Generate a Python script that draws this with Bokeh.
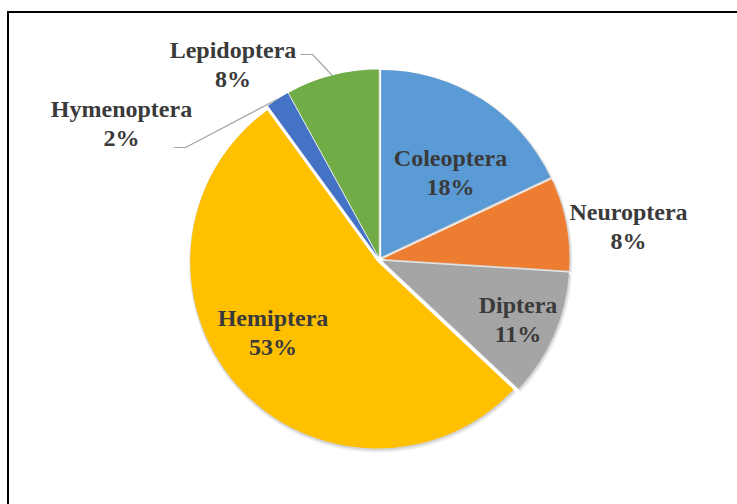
import numpy as np
from bokeh.plotting import figure
from bokeh.models import Range1d
from bokeh.embed import file_html
from bokeh.resources import INLINE
from bokeh.core.properties import value

# ---- data ----
categories = ["Coleoptera", "Neuroptera", "Diptera", "Hemiptera", "Hymenoptera", "Lepidoptera"]
shares = [18, 8, 11, 53, 2, 8]

# ---- styles / layout ----
COLORS = ["#5B9BD5", "#ED7D31", "#A5A5A5", "#FFC000", "#4472C4", "#70AD47"]
# label block centre offsets from pie centre (screen px, y down)
LABEL_OFFSETS = [(71, -87.5), (249, -33), (138.5, 60), (-106.5, 73), (-258, -136), (-146.5, -195)]
# leader line start/elbow offsets from label centre (screen px) for outside labels
LEADERS = {4: [(52, 24), (64, 24)], 5: [(67.5, -10), (79.5, -10)]}
LINE_GAP = 14.5

W, H = 737, 504
CX, CY = 379, 259      # pie centre in page pixels
R = 187
EXPLODE = 3
BOX_LEFT, BOX_TOP = 7.5, 11.5

p = figure(width=W, height=H, output_backend="svg", toolbar_location=None, title=None,
           x_range=Range1d(0, W), y_range=Range1d(-H, 0),
           x_axis_location=None, y_axis_location=None,
           min_border_left=0, min_border_right=0, min_border_top=0, min_border_bottom=0)
p.grid.visible = False
p.outline_line_color = None
p.background_fill_color = "white"
p.border_fill_color = "white"

vals = np.array(shares, dtype=float)
frac = vals / vals.sum()
cum = np.concatenate([[0.0], np.cumsum(frac)])
start = np.pi / 2 - 2 * np.pi * cum[:-1]
end = np.pi / 2 - 2 * np.pi * cum[1:]
mid = (start + end) / 2
cx = CX + EXPLODE * np.cos(mid)
cy = -CY + EXPLODE * np.sin(mid)

# soft shadow
p.wedge(x=cx + 1, y=cy - 2, radius=R + 2, start_angle=start, end_angle=end, direction="clock",
        fill_color="black", fill_alpha=0.07, line_color=None)
p.wedge(x=cx + 0.5, y=cy - 1, radius=R + 1, start_angle=start, end_angle=end, direction="clock",
        fill_color="black", fill_alpha=0.10, line_color=None)

p.wedge(x=cx, y=cy, radius=R, start_angle=start, end_angle=end, direction="clock",
        fill_color=COLORS, line_color=None)

# labels
lx = np.array([CX + o[0] for o in LABEL_OFFSETS])
ly = np.array([CY + o[1] for o in LABEL_OFFSETS])
pct = [f"{round(f * 100):d}%" for f in frac]
common = dict(text_font=value("Liberation Serif"), text_font_style="bold", text_font_size="24px",
              text_color="#3a3a3a", text_align="center", text_baseline="middle")
p.text(x=lx, y=-(ly - LINE_GAP), text=categories, **common)
p.text(x=lx, y=-(ly + LINE_GAP), text=pct, **common)

# leader lines
for i, pts in LEADERS.items():
    xs = [lx[i] + pts[0][0], lx[i] + pts[1][0], cx[i] + R * np.cos(mid[i])]
    ys = [-(ly[i] + pts[0][1]), -(ly[i] + pts[1][1]), cy[i] + R * np.sin(mid[i])]
    p.line(xs, ys, line_color="#A6A6A6", line_width=1.2)

# chart-area border (top and left edges visible; the rest lies outside the window)
p.line([BOX_LEFT, BOX_LEFT, W + 5], [-(H + 5), -BOX_TOP, -BOX_TOP], line_color="black", line_width=2,
       line_join="miter")

open("out.html", "w").write(file_html(p, INLINE))
